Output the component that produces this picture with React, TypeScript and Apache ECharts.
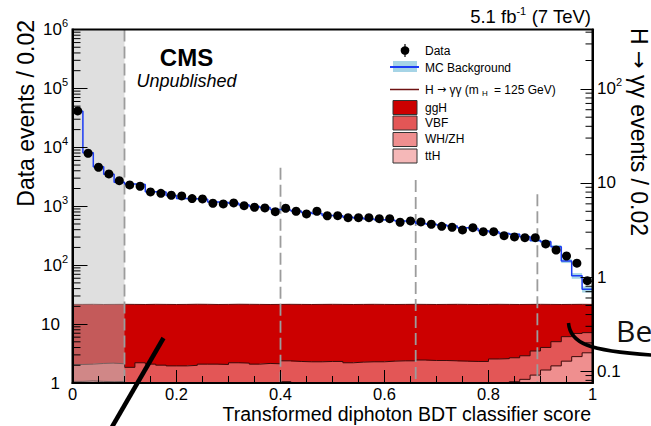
import React, { useEffect, useRef } from "react";
import * as echarts from "echarts";

// ---------------- data ----------------
const BIN_WIDTH = 0.02;

// Data events / 0.02 (left axis)
const dataCounts = [
  41500, 7940, 4590, 3535, 2720, 2300, 2186, 1750, 1660, 1537,
  1496, 1350, 1330, 1125, 1094, 1138, 1024, 961, 935, 809,
  925, 822, 740, 822, 690, 693, 640, 640, 640, 616,
  616, 535, 563, 541, 495, 457, 440, 396, 433, 370,
  370, 317, 301, 293, 293, 229, 181, 143, 108, 54.6,
];

// MC background / 0.02 (left axis)
const mcBackground = [
  41000, 8100, 4700, 3500, 2550, 2380, 2350, 1760, 1740, 1520,
  1350, 1340, 1310, 1180, 1160, 1120, 1050, 990, 950, 880,
  860, 830, 780, 750, 700, 690, 650, 630, 610, 590,
  580, 560, 545, 510, 495, 480, 460, 430, 420, 385,
  370, 345, 335, 305, 262, 250, 206, 118, 66, 39,
];

// relative MC uncertainty
const mcRelErr = [
  0.03, 0.03, 0.03, 0.03, 0.03, 0.03, 0.03, 0.03, 0.03, 0.03,
  0.03, 0.03, 0.03, 0.03, 0.03, 0.03, 0.03, 0.03, 0.03, 0.03,
  0.03, 0.03, 0.03, 0.03, 0.03, 0.03, 0.03, 0.03, 0.03, 0.03,
  0.03, 0.03, 0.03, 0.03, 0.03, 0.03, 0.03, 0.03, 0.03, 0.03,
  0.04, 0.04, 0.04, 0.04, 0.05, 0.06, 0.07, 0.08, 0.11, 0.12,
];

// H -> gamma gamma events / 0.02 (right axis), per production mode
const sigGGH = [
  0.395, 0.395, 0.391, 0.391, 0.394, 0.403, 0.389, 0.395, 0.397, 0.398,
  0.399, 0.3995, 0.395, 0.393, 0.395, 0.392, 0.392, 0.394, 0.391, 0.393,
  0.385, 0.386, 0.386, 0.387, 0.387, 0.386, 0.389, 0.388, 0.388, 0.387,
  0.384, 0.384, 0.385, 0.3815, 0.382, 0.383, 0.385, 0.385, 0.385, 0.386,
  0.379, 0.377, 0.373, 0.367, 0.35, 0.334, 0.306, 0.28, 0.262, 0.256,
];
const sigVBF = [
  0.04, 0.04, 0.043, 0.0445, 0.042, 0.04, 0.052, 0.05, 0.046, 0.043,
  0.044, 0.0465, 0.048, 0.049, 0.048, 0.054, 0.051, 0.049, 0.05, 0.05,
  0.0515, 0.056, 0.054, 0.056, 0.056, 0.055, 0.052, 0.055, 0.054, 0.055,
  0.056, 0.056, 0.057, 0.0558, 0.057, 0.058, 0.056, 0.056, 0.054, 0.054,
  0.061, 0.0605, 0.0616, 0.064, 0.073, 0.076, 0.092, 0.105, 0.109, 0.1,
];
const sigWHZH = [
  0.075, 0.076, 0.075, 0.0745, 0.075, 0.067, 0.068, 0.066, 0.067, 0.068,
  0.067, 0.066, 0.068, 0.067, 0.067, 0.066, 0.068, 0.067, 0.068, 0.067,
  0.0745, 0.068, 0.069, 0.067, 0.068, 0.069, 0.068, 0.067, 0.069, 0.068,
  0.069, 0.07, 0.069, 0.0727, 0.07, 0.069, 0.07, 0.069, 0.07, 0.07,
  0.07, 0.0705, 0.0714, 0.074, 0.081, 0.09, 0.097, 0.106, 0.115, 0.122,
];
const sigTTH = [
  0.003, 0.003, 0.003, 0.003, 0.003, 0.003, 0.003, 0.003, 0.003, 0.003,
  0.003, 0.003, 0.003, 0.003, 0.003, 0.003, 0.003, 0.003, 0.003, 0.003,
  0.003, 0.003, 0.003, 0.003, 0.003, 0.003, 0.003, 0.003, 0.003, 0.003,
  0.003, 0.003, 0.003, 0.003, 0.003, 0.003, 0.003, 0.003, 0.003, 0.003,
  0.004, 0.005, 0.006, 0.008, 0.01, 0.013, 0.017, 0.022, 0.028, 0.035,
];

// category boundaries (dashed lines) and the height where each dashed line starts
const categoryBounds = [0.1, 0.4, 0.66, 0.894];
const boundTops = [1e6, 4500, 2800, 1600];
// excluded region (grey band)
const greyRegion = [0, 0.1];

// axis tick labels
const xTickValues = [0, 0.2, 0.4, 0.6, 0.8, 1];
const leftMinorTicks = [
  2, 3, 4, 5, 6, 7, 8, 9, 20, 30, 40, 50, 60, 70, 80, 90,
  200, 300, 400, 500, 600, 700, 800, 900, 2000, 3000, 4000, 5000, 6000, 7000, 8000, 9000,
  20000, 30000, 40000, 50000, 60000, 70000, 80000, 90000,
  200000, 300000, 400000, 500000, 600000, 700000, 800000, 900000,
];
const rightMinorTicks = [
  0.08, 0.09, 0.2, 0.3, 0.4, 0.5, 0.6, 0.7, 0.8, 0.9,
  2, 3, 4, 5, 6, 7, 8, 9, 20, 30, 40, 50, 60, 70, 80, 90, 200, 300, 400,
];

// ---------------- styles ----------------
const FONT = '"Liberation Sans", Arial, Helvetica, sans-serif';
const SYM_FONT = '"DejaVu Sans", sans-serif';
const C_GGH = "#cc0000";
const C_VBF = "#e35656";
const C_WH = "#ef8f8f";
const C_TTH = "#f5b8b8";
const C_MC = "#1c3cf5";
const C_BAND = "#a6d4e6";

export default function App() {
  const ref = useRef<HTMLDivElement>(null);

  useEffect(() => {
    document.body.style.margin = "0";
    const chart = echarts.init(ref.current!, null, { renderer: "svg" });

    const nBins = dataCounts.length;
    const edges = Array.from({ length: nBins + 1 }, (_, i) => +(i * BIN_WIDTH).toFixed(3));
    const centers = dataCounts.map((_, i) => +((i + 0.5) * BIN_WIDTH).toFixed(3));

    const cumTTH = sigTTH.slice();
    const cumWH = cumTTH.map((v, i) => v + sigWHZH[i]);
    const cumVBF = cumWH.map((v, i) => v + sigVBF[i]);
    const cumAll = cumVBF.map((v, i) => v + sigGGH[i]);
    const layers = [
      { vals: cumAll, color: C_GGH },
      { vals: cumVBF, color: C_VBF },
      { vals: cumWH, color: C_WH },
      { vals: cumTTH, color: C_TTH },
    ];

    const stepData = (vals: number[]) => [
      ...vals.map((v, i) => [edges[i], v]),
      [edges[nBins], vals[nBins - 1]],
    ];

    const supLabel = (v: number) => {
      const e = Math.round(Math.log10(v));
      if (Math.abs(v - Math.pow(10, e)) > 1e-6 * v) return "";
      if (e === -1) return "{n|0.1}";
      if (e === 0) return "{n|1}";
      if (e === 1) return "{n|10}";
      return "{b|10}{s|" + e + "}";
    };

    const richFor = (padRight: number) => ({
      n: { fontSize: 17, fontFamily: FONT, color: "#000", padding: [0, padRight, 0, 0] },
      b: { fontSize: 17, fontFamily: FONT, color: "#000", lineHeight: 24 },
      s: { fontSize: 11, fontFamily: FONT, color: "#000", lineHeight: 11, verticalAlign: "top" },
    });

    const tickSeries = (vals: number[], yAxisIndex: number, xAt: number, len: number) => ({
      type: "custom",
      xAxisIndex: 0,
      yAxisIndex,
      z: 12,
      silent: true,
      clip: false,
      data: vals.map((v) => [xAt, v]),
      encode: { x: 0, y: 1 },
      renderItem: (params: any, api: any) => {
        const p = api.coord([api.value(0), api.value(1)]);
        return {
          type: "line",
          shape: { x1: p[0], y1: p[1], x2: p[0] + len, y2: p[1] },
          style: { stroke: "#000", lineWidth: 1 },
        };
      },
    });

    const option: any = {
      animation: false,
      backgroundColor: "#fff",
      grid: {
        left: 72.5,
        top: 29.5,
        width: 520,
        height: 353.5,
        show: true,
        borderColor: "#000",
        borderWidth: 2,
        backgroundColor: "transparent",
        z: 10,
      },
      xAxis: {
        type: "value",
        min: 0,
        max: 1,
        interval: 0.2,
        z: 10,
        axisLine: { show: true, onZero: false, lineStyle: { color: "#000", width: 2 } },
        axisTick: { show: true, inside: true, length: 13, lineStyle: { color: "#000", width: 1 } },
        minorTick: { show: true, splitNumber: 4, length: 7, lineStyle: { color: "#000", width: 1 } },
        splitLine: { show: false },
        axisLabel: {
          fontSize: 16.5,
          fontFamily: FONT,
          color: "#000",
          margin: 2,
          formatter: (v: number) => (xTickValues.some((t) => Math.abs(t - v) < 1e-9) ? String(+v.toFixed(1)) : ""),
        },
      },
      yAxis: [
        {
          type: "log",
          logBase: 10,
          min: 1,
          max: 1e6,
          position: "left",
          z: 10,
          axisLine: { show: true, lineStyle: { color: "#000", width: 2 } },
          axisTick: { show: true, inside: true, length: 15, lineStyle: { color: "#000", width: 1 } },
          splitLine: { show: false },
          axisLabel: { margin: 4.5, formatter: supLabel, rich: richFor(8) },
        },
        {
          type: "log",
          logBase: 10,
          min: 0.075,
          max: 427,
          position: "right",
          z: 10,
          axisLine: { show: true, lineStyle: { color: "#000", width: 2 } },
          axisTick: { show: true, inside: true, length: 12, lineStyle: { color: "#000", width: 1 } },
          splitLine: { show: false },
          axisLabel: { margin: 4.5, formatter: supLabel, rich: richFor(0) },
        },
      ],
      series: [
        // signal stack fills (one polygon per production mode, stacked)
        {
          type: "custom",
          xAxisIndex: 0,
          yAxisIndex: 1,
          z: 1,
          silent: true,
          clip: true,
          data: [[0, 1]],
          encode: { x: 0, y: 1 },
          renderItem: (params: any, api: any) => {
            const cs = params.coordSys;
            const bottom = cs.y + cs.height;
            const children = layers.map((layer) => {
              const pts: number[][] = [[api.coord([edges[0], 1])[0], bottom]];
              layer.vals.forEach((v, i) => {
                const xl = api.coord([edges[i], v])[0];
                const xr = api.coord([edges[i + 1], v])[0];
                const y = Math.min(api.coord([edges[i], v])[1], bottom);
                pts.push([xl, y], [xr, y]);
              });
              pts.push([api.coord([edges[nBins], 1])[0], bottom]);
              return { type: "polygon", shape: { points: pts }, style: { fill: layer.color } };
            });
            return { type: "group", children };
          },
        },
        // signal outlines
        ...[
          { vals: cumAll, color: "#5e0808" },
          { vals: cumVBF, color: "#3a0a0a" },
          { vals: cumWH, color: "#3a0a0a" },
          { vals: cumTTH, color: "#3a0a0a" },
        ].map((s) => ({
          type: "line",
          xAxisIndex: 0,
          yAxisIndex: 1,
          z: 2,
          silent: true,
          step: "end",
          symbol: "none",
          data: stepData(s.vals),
          lineStyle: { color: s.color, width: 1 },
        })),
        // excluded grey region
        {
          type: "custom",
          xAxisIndex: 0,
          yAxisIndex: 0,
          z: 3,
          silent: true,
          data: [[greyRegion[0], greyRegion[1], 1000]],
          encode: { x: 0, y: 2 },
          renderItem: (params: any, api: any) => {
            const cs = params.coordSys;
            const xl = api.coord([api.value(0), 10])[0];
            const xr = api.coord([api.value(1), 10])[0];
            return {
              type: "rect",
              shape: { x: xl, y: cs.y, width: xr - xl, height: cs.height },
              style: { fill: "rgba(188,188,188,0.48)" },
            };
          },
        },
        // category boundaries
        {
          type: "custom",
          xAxisIndex: 0,
          yAxisIndex: 0,
          z: 4,
          silent: true,
          data: categoryBounds.map((b, i) => [b, boundTops[i]]),
          encode: { x: 0, y: 1 },
          renderItem: (params: any, api: any) => {
            const cs = params.coordSys;
            const p = api.coord([api.value(0), api.value(1)]);
            return {
              type: "line",
              shape: { x1: p[0], y1: Math.max(p[1], cs.y), x2: p[0], y2: cs.y + cs.height },
              style: { stroke: "#9c9c9c", lineWidth: 1.8, lineDash: [12, 5] },
            };
          },
        },
        // MC uncertainty band
        {
          type: "custom",
          xAxisIndex: 0,
          yAxisIndex: 0,
          z: 5,
          silent: true,
          data: mcBackground.map((m, i) => [edges[i], edges[i + 1], m * (1 - mcRelErr[i]), m * (1 + mcRelErr[i])]),
          encode: { x: 0, y: 2 },
          renderItem: (params: any, api: any) => {
            const a = api.coord([api.value(0), api.value(3)]);
            const b = api.coord([api.value(1), api.value(2)]);
            return {
              type: "rect",
              shape: { x: a[0], y: a[1], width: b[0] - a[0], height: b[1] - a[1] },
              style: { fill: C_BAND },
            };
          },
        },
        // MC background
        {
          type: "line",
          xAxisIndex: 0,
          yAxisIndex: 0,
          z: 6,
          silent: true,
          step: "end",
          symbol: "none",
          data: stepData(mcBackground),
          lineStyle: { color: C_MC, width: 1.5 },
        },
        // data points
        {
          type: "scatter",
          xAxisIndex: 0,
          yAxisIndex: 0,
          z: 7,
          silent: true,
          symbol: "circle",
          symbolSize: 9,
          itemStyle: { color: "#000", opacity: 1 },
          data: dataCounts.map((v, i) => [centers[i], v]),
        },
        // log minor ticks
        tickSeries(leftMinorTicks, 0, 0, 8),
        tickSeries(rightMinorTicks, 1, 1, -7),
      ],
      graphic: [
        // titles
        {
          type: "text", x: 591, y: 16, z: 100,
          style: {
            text: "{t|5.1 fb}{s|-1}{t| (7 TeV)}",
            align: "right", verticalAlign: "middle",
            rich: {
              t: { fontSize: 18.5, fontFamily: FONT, lineHeight: 22, fill: "#000" },
              s: { fontSize: 11, fontFamily: FONT, lineHeight: 11, verticalAlign: "top", fill: "#000" },
            },
          },
        },
        {
          type: "text", x: 26, y: 20, rotation: Math.PI / 2, z: 100,
          style: { text: "Data events / 0.02", fontSize: 23, fontFamily: FONT, fill: "#000", align: "right", verticalAlign: "middle" },
        },
        {
          type: "text", x: 639, y: 28, rotation: -Math.PI / 2, z: 100,
          style: {
            text: "{t|H }{a|→}{t| γγ events / 0.02}",
            align: "left", verticalAlign: "middle",
            rich: {
              t: { fontSize: 23, fontFamily: FONT, fill: "#000" },
              a: { fontSize: 21, fontFamily: SYM_FONT, fill: "#000" },
            },
          },
        },
        {
          type: "text", x: 591, y: 414, z: 100,
          style: { text: "Transformed diphoton BDT classifier score", fontSize: 19.5, fontFamily: FONT, fill: "#000", align: "right", verticalAlign: "middle" },
        },
        {
          type: "text", x: 186.5, y: 57, z: 100,
          style: { text: "CMS", fontSize: 24, fontWeight: "bold", fontFamily: FONT, fill: "#000", align: "center", verticalAlign: "middle" },
        },
        {
          type: "text", x: 186.5, y: 81, z: 100,
          style: { text: "Unpublished", fontSize: 18, fontStyle: "italic", fontFamily: FONT, fill: "#000", align: "center", verticalAlign: "middle" },
        },
        // legend
        { type: "line", z: 100, shape: { x1: 405, y1: 44, x2: 405, y2: 57 }, style: { stroke: "#000", lineWidth: 1.2 } },
        { type: "circle", z: 100, shape: { cx: 405, cy: 50.5, r: 4.3 }, style: { fill: "#000" } },
        { type: "rect", z: 100, shape: { x: 393, y: 61, width: 24, height: 11 }, style: { fill: C_BAND } },
        { type: "line", z: 100, shape: { x1: 390, y1: 67, x2: 419, y2: 67 }, style: { stroke: C_MC, lineWidth: 2 } },
        { type: "line", z: 100, shape: { x1: 390, y1: 89.5, x2: 419, y2: 89.5 }, style: { stroke: "#6e1212", lineWidth: 1.5 } },
        ...[
          { c: C_GGH, y: 100.5 },
          { c: C_VBF, y: 116 },
          { c: C_WH, y: 132.5 },
          { c: C_TTH, y: 149 },
        ].map((b) => ({
          type: "rect", z: 100,
          shape: { x: 393, y: b.y, width: 24, height: 14 },
          style: { fill: b.c, stroke: "#333", lineWidth: 1 },
        })),
        ...[
          { t: "Data", y: 50.5 },
          { t: "MC Background", y: 67.5 },
          { t: "ggH", y: 108 },
          { t: "VBF", y: 123 },
          { t: "WH/ZH", y: 139 },
          { t: "ttH", y: 155.5 },
        ].map((l) => ({
          type: "text", x: 425, y: l.y, z: 100,
          style: { text: l.t, fontSize: 12, fontFamily: FONT, fill: "#000", align: "left", verticalAlign: "middle" },
        })),
        {
          type: "text", x: 425, y: 89.5, z: 100,
          style: {
            text: "{t|H }{a|→}{t| γγ (m}{u|H}{t| = 125 GeV)}",
            align: "left", verticalAlign: "middle",
            rich: {
              t: { fontSize: 12, fontFamily: FONT, lineHeight: 16, fill: "#000" },
              a: { fontSize: 11, fontFamily: SYM_FONT, lineHeight: 16, fill: "#000" },
              u: { fontSize: 8, fontFamily: FONT, lineHeight: 8, verticalAlign: "bottom", padding: [0, 3, 0, 3], fill: "#000" },
            },
          },
        },
        // hand-drawn annotations
        { type: "line", z: 110, shape: { x1: 112, y1: 427, x2: 163.5, y2: 338 }, style: { stroke: "#000", lineWidth: 4.5 } },
        {
          type: "bezierCurve", z: 110,
          shape: { x1: 568.5, y1: 323, cpx1: 570, cpy1: 343, cpx2: 588, cpy2: 351, x2: 652, y2: 355 },
          style: { stroke: "#000", lineWidth: 3.5, fill: "none" },
        },
        {
          type: "text", x: 616, y: 330, z: 110,
          style: { text: "Be", fontSize: 30, fontFamily: '"Open Sans", sans-serif', fill: "#111", align: "left", verticalAlign: "middle" },
        },
      ],
    };

    chart.setOption(option);
    return () => chart.dispose();
  }, []);

  return <div ref={ref} style={{ width: 651, height: 426 }} />;
}
